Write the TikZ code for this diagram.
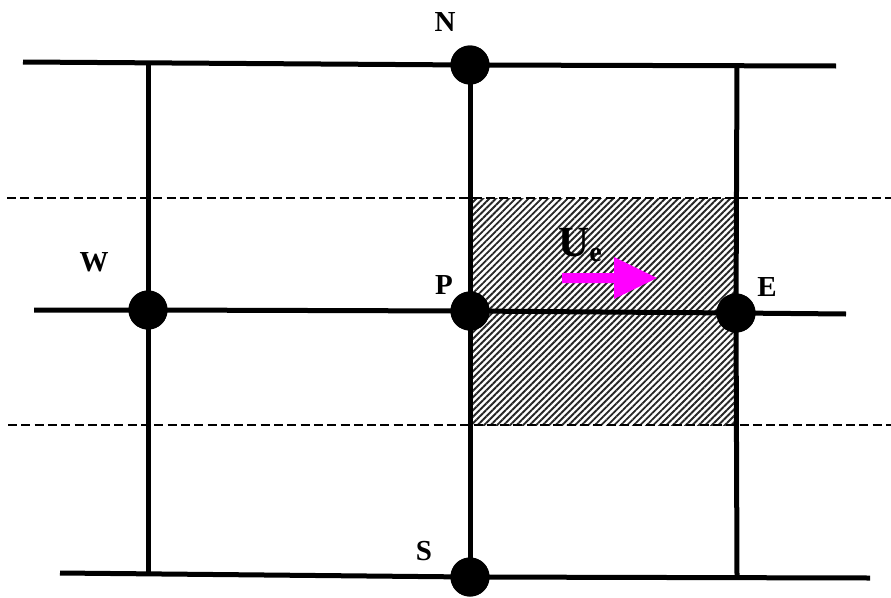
\documentclass[tikz,border=0pt]{standalone}
\usepackage{fontspec}
\setmainfont{Liberation Serif}
\usetikzlibrary{patterns.meta}
\definecolor{magentaU}{RGB}{255,0,255}
\begin{document}
\begin{tikzpicture}[x=1pt,y=-1pt,
  gridline/.style={line width=5pt},
  halfline/.style={line width=1.9pt,dash pattern=on 9pt off 4.3pt},
  dot/.style={circle,fill=black,inner sep=0pt,minimum size=39pt},
  lbl/.style={font=\fontsize{29}{29}\selectfont\bfseries,inner sep=0pt},
  hatch/.style={pattern={Lines[angle=45,distance=4.6pt,line width=1.9pt]},pattern color=black!85}]
\useasboundingbox (0,0) rectangle (891,597);
% hatched control volume
\fill[hatch] (470,198) rectangle (737,425);
% dashed lines
\coordinate (d1l) at (7,198); \coordinate (d1r) at (891,198);
\coordinate (d2l) at (8,425); \coordinate (d2r) at (891,425);
\draw[halfline] (d1l) -- (d1r);
\draw[halfline] (d2l) -- (d2r);
% nodes
\node[dot] (N) at (470,65) {};
\node[dot] (W) at (148,310) {};
\node[dot] (P) at (470,311) {};
\node[dot] (E) at (736,313) {};
\node[dot] (S) at (470,577) {};
% line ends
\coordinate (tl) at (23,62); \coordinate (tr) at (836,66);
\coordinate (ml) at (34,310); \coordinate (mr) at (846,314);
\coordinate (bl) at (60,573); \coordinate (br) at (870,578);
\coordinate (wt) at (148,62); \coordinate (wb) at (148,573);
\coordinate (et) at (737,65); \coordinate (eb) at (737,576);
% horizontal lines
\draw[gridline] (tl) -- (N.center) -- (tr);
\draw[gridline] (ml) -- (W.center) -- (P.center) -- (E.center) -- (mr);
\draw[gridline] (bl) -- (S.center) -- (br);
% vertical lines
\draw[gridline] (wt) -- (W.center) -- (wb);
\draw[gridline] (N.center) -- (P.center) -- (S.center);
\draw[gridline] (et) -- (E.center) -- (eb);
% redraw dots on top
\foreach \n in {N,W,P,E,S} \fill (\n) circle (19.5pt);
% labels
\node[lbl] (lN) at (445,22) {N};
\node[lbl] (lW) at (94,262) {W};
\node[lbl] (lP) at (444,285) {P};
\node[lbl] (lE) at (767,287) {E};
\node[lbl] (lS) at (424,551) {S};
\node[inner sep=0pt,anchor=base west] (Ue) at (558,256) {\fontsize{43}{43}\selectfont\bfseries U\raisebox{-5pt}{\fontsize{28}{28}\selectfont e}};
% velocity arrow
\fill[magentaU] (562,273) -- (614,273) -- (614,257) -- (657,278) -- (614,299) -- (614,283) -- (562,283) -- cycle;
\end{tikzpicture}
\end{document}
